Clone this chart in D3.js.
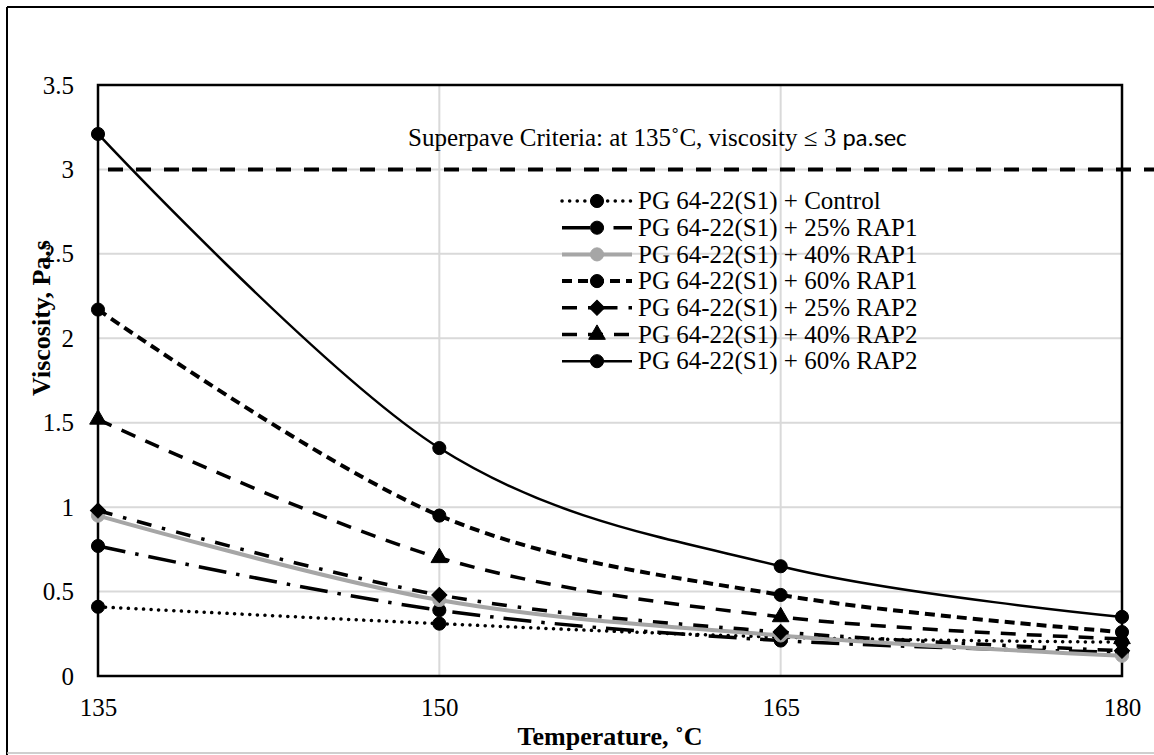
<!DOCTYPE html>
<html>
<head>
<meta charset="utf-8">
<script src="https://cdn.jsdelivr.net/npm/d3@7"></script>
<style>
  body { margin: 0; background: #fff; }
  svg text { font-family: "Liberation Serif", "Times New Roman", serif; fill: #000; }
</style>
</head>
<body>
<div id="chart"></div>
<script>
// viscosity vs temperature
var temps = [135, 150, 165, 180];
var seriesNames = [
    "PG 64-22(S1) + Control",
    "PG 64-22(S1) + 25% RAP1",
    "PG 64-22(S1) + 40% RAP1",
    "PG 64-22(S1) + 60% RAP1",
    "PG 64-22(S1) + 25% RAP2",
    "PG 64-22(S1) + 40% RAP2",
    "PG 64-22(S1) + 60% RAP2"
];
var control = [0.41, 0.31, 0.23, 0.20];
var rap1_25 = [0.77, 0.39, 0.21, 0.14];
var rap1_40 = [0.95, 0.45, 0.24, 0.12];
var rap1_60 = [2.17, 0.95, 0.48, 0.26];
var rap2_25 = [0.98, 0.48, 0.26, 0.15];
var rap2_40 = [1.52, 0.70, 0.35, 0.22];
var rap2_60 = [3.21, 1.35, 0.65, 0.35];
var yTicks = [0, 0.5, 1, 1.5, 2, 2.5, 3, 3.5];
var criteria = 3;

var allValues = [control, rap1_25, rap1_40, rap1_60, rap2_25, rap2_40, rap2_60];

// line / marker style per series
var styles = [
    {stroke: "#000", width: 3.5, dash: "0.1 7.5", cap: "round", marker: "circle", fill: "#000"},
    {stroke: "#000", width: 3.5, dash: "28 10 3.5 10", cap: "butt", marker: "circle", fill: "#000"},
    {stroke: "#a6a6a6", width: 4, dash: null, cap: "butt", marker: "circle", fill: "#a6a6a6"},
    {stroke: "#000", width: 4, dash: "10 6", cap: "butt", marker: "circle", fill: "#000"},
    {stroke: "#000", width: 3.5, dash: "15 11 3.5 11", cap: "butt", marker: "diamond", fill: "#000"},
    {stroke: "#000", width: 3.5, dash: "15 11", cap: "butt", marker: "triangle", fill: "#000"},
    {stroke: "#000", width: 2.5, dash: null, cap: "butt", marker: "circle", fill: "#000"}
];

var W = 1154, H = 755;
var plot = {left: 98, top: 85, right: 1122, bottom: 676};

var svg = d3.select("#chart").append("svg")
    .attr("width", W)
    .attr("height", H);

// outer chart frame (cropped on the right)
svg.append("line").attr("x1", 7).attr("y1", 7).attr("x2", W).attr("y2", 7)
    .style("stroke", "#000").style("stroke-width", 2);
svg.append("line").attr("x1", 7).attr("y1", 7).attr("x2", 7).attr("y2", H)
    .style("stroke", "#000").style("stroke-width", 2);
svg.append("line").attr("x1", 7).attr("y1", 753).attr("x2", W).attr("y2", 753)
    .style("stroke", "#bfbfbf").style("stroke-width", 1.5);

var x = d3.scaleLinear().domain([135, 180]).range([plot.left, plot.right]);
var y = d3.scaleLinear().domain([0, 3.5]).range([plot.bottom, plot.top]);

// gridlines
svg.append("g").selectAll("line")
    .data(yTicks)
    .enter().append("line")
    .attr("x1", plot.left).attr("x2", plot.right)
    .attr("y1", function(d) { return y(d); })
    .attr("y2", function(d) { return y(d); })
    .style("stroke", "#d9d9d9").style("stroke-width", 2);
svg.append("g").selectAll("line")
    .data(temps)
    .enter().append("line")
    .attr("x1", function(d) { return x(d); })
    .attr("x2", function(d) { return x(d); })
    .attr("y1", plot.top).attr("y2", plot.bottom)
    .style("stroke", "#d9d9d9").style("stroke-width", 2);

// plot border
svg.append("rect")
    .attr("x", plot.left).attr("y", plot.top)
    .attr("width", plot.right - plot.left).attr("height", plot.bottom - plot.top)
    .style("fill", "none").style("stroke", "#000").style("stroke-width", 2.5);

// axes
var yAxis = svg.append("g")
    .attr("transform", "translate(" + plot.left + ",0)")
    .call(d3.axisLeft(y).tickValues(yTicks).tickSize(0).tickPadding(24).tickFormat(d3.format("")));
var xAxis = svg.append("g")
    .attr("transform", "translate(0," + plot.bottom + ")")
    .call(d3.axisBottom(x).tickValues(temps).tickSize(0).tickPadding(22).tickFormat(d3.format("d")));
[yAxis, xAxis].forEach(function(a) {
    a.select(".domain").remove();
    a.selectAll("text").style("font-size", "25px")
        .style("font-family", "'Liberation Serif', 'Times New Roman', serif");
});

// axis titles
svg.append("text")
    .attr("x", (plot.left + plot.right) / 2)
    .attr("y", 745)
    .attr("text-anchor", "middle")
    .style("font-size", "26px").style("font-weight", "bold")
    .text("Temperature, \u02DAC");
svg.append("text")
    .attr("transform", "translate(50,318) rotate(-90)")
    .attr("text-anchor", "middle")
    .style("font-size", "26px").style("font-weight", "bold")
    .text("Viscosity, Pa.s");

// criteria line + note
svg.append("line")
    .attr("x1", 108).attr("x2", W)
    .attr("y1", y(criteria)).attr("y2", y(criteria))
    .style("stroke", "#000").style("stroke-width", 4)
    .style("stroke-dasharray", "15 13");
var note = svg.append("text")
    .attr("x", 408).attr("y", 146)
    .style("font-size", "25px");
note.append("tspan").text("Superpave Criteria: at 135\u02DAC, viscosity \u2264 3 ");
note.append("tspan").style("font-family", "Carlito, 'Open Sans', sans-serif").text("pa.sec");

function markerPath(type) {
    if (type === "diamond") return d3.symbol(d3.symbolSquare, 115)();
    if (type === "triangle") return d3.symbol(d3.symbolTriangle, 120)();
    return d3.symbol(d3.symbolCircle, 135)();
}

var line = d3.line()
    .x(function(d, i) { return x(temps[i]); })
    .y(function(d) { return y(d); })
    .curve(d3.curveCardinal.tension(0));

function styleLine(sel, st) {
    sel.style("fill", "none")
        .style("stroke", st.stroke)
        .style("stroke-width", st.width)
        .style("stroke-linecap", st.cap)
        .style("stroke-dasharray", st.dash);
}

function addMarker(g, st, cx, cy) {
    g.append("path")
        .attr("d", markerPath(st.marker))
        .attr("transform", "translate(" + cx + "," + cy + ")" + (st.marker === "diamond" ? " rotate(45)" : ""))
        .style("fill", st.fill)
        .style("stroke", st.fill)
        .style("stroke-width", 1);
}

var series = svg.selectAll(".series")
    .data(allValues)
    .enter().append("g")
    .attr("class", "series");

series.each(function(vals, i) {
    var g = d3.select(this);
    var st = styles[i];
    g.append("path").attr("d", line(vals)).call(styleLine, st);
    vals.forEach(function(v, j) { addMarker(g, st, x(temps[j]), y(v)); });
});

// legend
var legend = svg.append("g").attr("class", "legend");
var legY0 = 201, legStep = 26.7;
seriesNames.forEach(function(name, i) {
    var st = styles[i];
    var ly = legY0 + i * legStep;
    var row = legend.append("g");
    row.append("line")
        .attr("x1", 562).attr("x2", 632).attr("y1", ly).attr("y2", ly)
        .call(styleLine, st);
    addMarker(row, st, 597, ly);
    row.append("text")
        .attr("x", 638).attr("y", ly)
        .attr("dy", "0.33em")
        .style("font-size", "25px")
        .text(name);
});
</script>
</body>
</html>
